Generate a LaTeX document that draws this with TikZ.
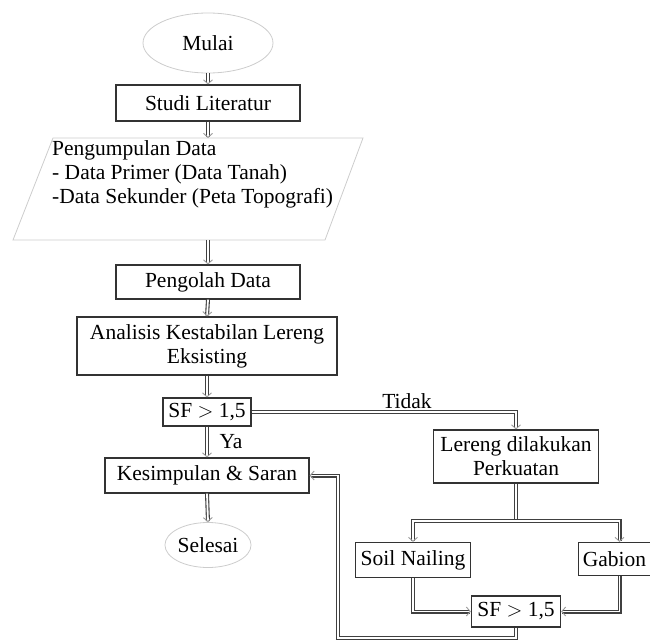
\documentclass[tikz,border=0pt]{standalone}
\usepackage{fontspec}
\setmainfont{Liberation Serif}
\usetikzlibrary{shapes.geometric,arrows.meta}
\begin{document}
\begin{tikzpicture}[x=1pt,y=-1pt,
  font=\fontsize{21.5}{24}\selectfont,
  box/.style={draw=black!80,line width=1.2pt,inner sep=0pt,align=center,fill=white},
  term/.style={draw=black!20,line width=0.8pt,ellipse,inner sep=0pt},
  conn/.style={draw=black!75,line width=1.1pt,double=white,double distance=1.8pt,
    -{Straight Barb[color=black!40,line width=0.9pt,length=4pt,width=9pt]}},
  plain/.style={draw=black!75,line width=1.1pt,double=white,double distance=1.8pt},
  lbl/.style={inner sep=0pt}]
\useasboundingbox (0,0) rectangle (650,642);
% nodes
\node[term,minimum width=130,minimum height=60] (mulai) at (208,43) {Mulai};
\node[box,minimum width=184,minimum height=36] (studi) at (208,103) {Studi Literatur};
\draw[draw=black!20,line width=0.8pt] (53,138) -- (363,138) -- (325,240) -- (13,240) -- cycle;
\node[lbl,align=left,anchor=north west] (pd) at (52,140) {Pengumpulan Data\\- Data Primer (Data Tanah)\\-Data Sekunder (Peta Topografi)};
\coordinate (pdtop) at (208,138);
\coordinate (pdbot) at (208,240);
\node[box,minimum width=184,minimum height=34] (olah) at (208,282) {Pengolah Data};
\node[box,minimum width=260,minimum height=58] (anal) at (207,346) {Analisis Kestabilan Lereng\\Eksisting};
\node[box,minimum width=88,minimum height=28] (sfa) at (207,412) {SF $>$ 1,5};
\node[box,minimum width=204,minimum height=35] (kes) at (207,475.5) {Kesimpulan \& Saran};
\node[term,minimum width=85,minimum height=45] (sel) at (208,545) {Selesai};
\node[box,minimum width=165,minimum height=53] (ler) at (516,456.5) {Lereng dilakukan\\Perkuatan};
\node[box,minimum width=115,minimum height=35] (soil) at (413,560) {Soil Nailing};
\node[box,minimum width=72,minimum height=33] (gab) at (614.5,559) {Gabion};
\node[box,minimum width=89,minimum height=31] (sfb) at (516,611.5) {SF $>$ 1,5};
\coordinate (split) at (516,521);
\coordinate (ret) at (338,638);
% connectors
\draw[conn] (mulai.south) -- (studi.north);
\draw[conn] (studi.south) -- (pdtop);
\draw[conn] (pdbot) -- (olah.north);
\draw[conn] (olah.south) -- (anal.north);
\draw[conn] (anal.south) -- (sfa.north);
\draw[conn] (sfa.east) -| (ler.north);
\node[lbl] (tidak) at (407,401) {Tidak};
\draw[conn] (sfa.south) -- (kes.north);
\node[lbl] (ya) at (231,442) {Ya};
\draw[conn] (kes.south) -- (sel.north);
\draw[plain] (ler.south) -- (split);
\draw[conn] (split) -| (soil.north);
\draw[conn] (split) -| ([xshift=5pt]gab.north);
\draw[conn] (soil.south) |- (sfb.west);
\draw[conn] ([xshift=5pt]gab.south) |- (sfb.east);
\draw[conn] (sfb.south) |- (ret) |- (kes.east);
\end{tikzpicture}
\end{document}
